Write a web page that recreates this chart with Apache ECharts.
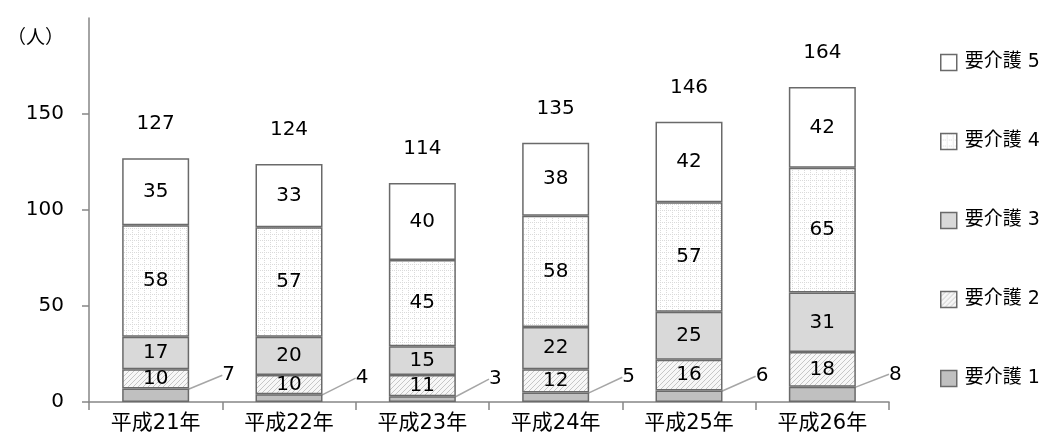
<!DOCTYPE html>
<html><head><meta charset="utf-8">
<script src="https://cdn.jsdelivr.net/npm/echarts@6/dist/echarts.min.js"></script>
<style>html,body{margin:0;padding:0;background:#fff}#c{width:1051px;height:443px}</style>
</head><body><div id="c"></div>
<script>
const categories = ['平成21年','平成22年','平成23年','平成24年','平成25年','平成26年'];
const care1 = [7,4,3,5,6,8];
const care2 = [10,10,11,12,16,18];
const care3 = [17,20,15,22,25,31];
const care4 = [58,57,45,58,57,65];
const care5 = [35,33,40,38,42,42];
const totals = [127,124,114,135,146,164];
const seriesNames = ['要介護 1','要介護 2','要介護 3','要介護 4','要介護 5'];
const yTicks = [0,50,100,150,200];

function hatch(){
  const c=document.createElement('canvas');c.width=5;c.height=5;
  const x=c.getContext('2d');x.fillStyle='#f7f7f7';x.fillRect(0,0,5,5);
  x.strokeStyle='#c6c6c6';x.lineWidth=1;
  x.beginPath();x.moveTo(-1,6);x.lineTo(6,-1);x.moveTo(-1,1);x.lineTo(1,-1);x.moveTo(4,6);x.lineTo(6,4);x.stroke();
  return c;
}
function grid(){
  const c=document.createElement('canvas');c.width=6;c.height=6;
  const x=c.getContext('2d');x.fillStyle='#ffffff';x.fillRect(0,0,6,6);
  x.fillStyle='#dadada';
  for(let i=0;i<6;i+=2){x.fillRect(i,0,1,1);x.fillRect(0,i,1,1);}
  return c;
}
const font='"DejaVu Sans", "Noto Sans CJK JP", sans-serif';
const border='#6a6a6a';
const fills=['#c0c0c0',{image:hatch(),repeat:'repeat'},'#d9d9d9',{image:grid(),repeat:'repeat'},'#ffffff'];
const datas=[care1,care2,care3,care4,care5];

const series = datas.map((d,i)=>{
  const s={
    name:seriesNames[i],type:'bar',stack:'t',barWidth:67,data:d,
    itemStyle:{color:fills[i],borderColor:border,borderWidth:1.5},
    label:{show:true,position:'inside',color:'#000',fontSize:20,fontFamily:font}
  };
  if(i===0){
    s.labelLayout={dx:73,dy:-20};
    s.labelLine={show:true,lineStyle:{color:'#a6a6a6',width:1.5}};
  }
  return s;
});
series.push({
  name:'total',type:'bar',stack:'t',barWidth:67,data:totals.map(()=>0),
  itemStyle:{color:'transparent'},
  label:{show:true,position:'top',distance:24,color:'#000',fontSize:20,fontFamily:font,
    formatter:p=>String(totals[p.dataIndex])},
  tooltip:{show:false}
});

const chart=echarts.init(document.getElementById('c'));
chart.setOption({
  animation:false,
  title:{text:'（人）',left:2,top:22,textStyle:{fontSize:19,fontWeight:'normal',color:'#000',fontFamily:'"Noto Sans CJK JP", sans-serif'}},
  grid:{left:89,right:162,top:18,bottom:41,containLabel:false},
  legend:{
    orient:'vertical',left:935,top:48,itemWidth:16,itemHeight:16,itemGap:60,icon:'rect',
    data:seriesNames.slice().reverse(),
    textStyle:{fontSize:19,color:'#000',fontFamily:font,padding:[0,0,0,3]},
    itemStyle:{borderColor:border,borderWidth:1.5}
  },
  xAxis:{type:'category',data:categories,
    axisLine:{lineStyle:{color:'#868686',width:1.5}},
    axisTick:{show:true,length:8,lineStyle:{color:'#868686',width:1.5}},
    axisLabel:{fontSize:21,color:'#000',fontFamily:font,margin:11}},
  yAxis:{type:'value',min:yTicks[0],max:yTicks[yTicks.length-1],interval:50,
    axisLine:{show:true,lineStyle:{color:'#868686',width:1.5}},
    axisTick:{show:true,length:7,lineStyle:{color:'#868686',width:1.5}},
    splitLine:{show:false},
    axisLabel:{fontSize:20,color:'#000',fontFamily:font,margin:25,showMaxLabel:false}},
  series:series
});
</script></body></html>
